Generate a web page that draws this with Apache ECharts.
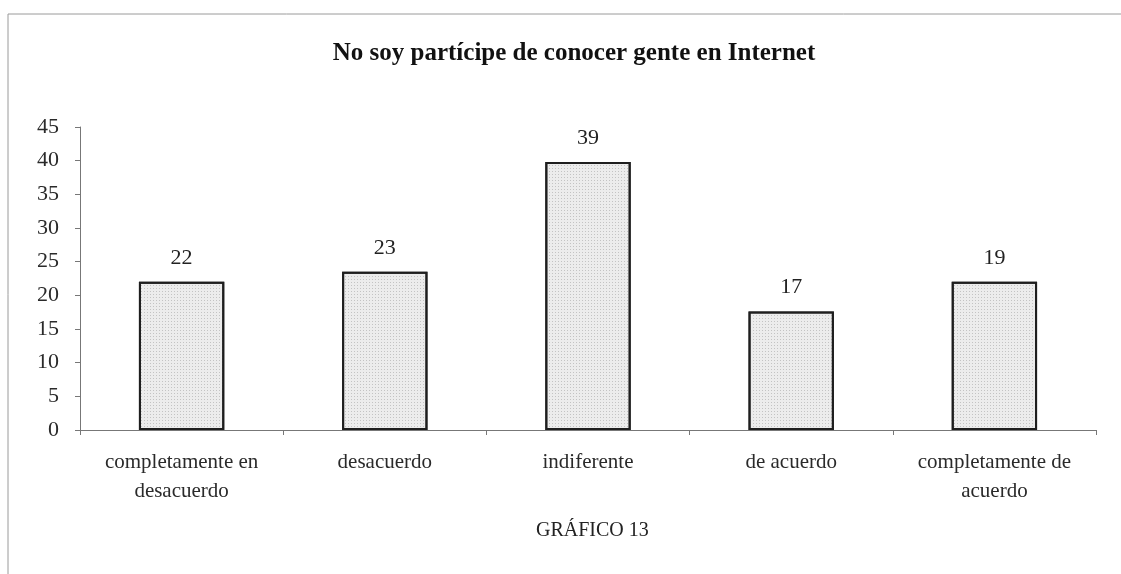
<!DOCTYPE html>
<html>
<head>
<meta charset="utf-8">
<script src="https://cdn.jsdelivr.net/npm/echarts@6/dist/echarts.min.js"></script>
<style>
  html, body { margin: 0; padding: 0; background: #fff; }
  #chart { width: 1121px; height: 574px; }
</style>
</head>
<body>
<div id="chart"></div>
<script>
// categorias y valores
const categories = [
  "completamente en\ndesacuerdo",
  "desacuerdo",
  "indiferente",
  "de acuerdo",
  "completamente de\nacuerdo"
];
// altura de las barras tal como se ven
const barValues = [22, 23.5, 39.8, 17.6, 22];
// numeros escritos encima de cada barra
const barLabels = ["22", "23", "39", "17", "19"];
const yTicks = { min: 0, max: 45, interval: 5 };

const serif = "'Liberation Serif', 'Times New Roman', serif";

const chart = echarts.init(document.getElementById("chart"));

const options = {
  backgroundColor: "#fff",
  animation: false,
  title: {
    text: "No soy partícipe de conocer gente en Internet",
    left: 569,
    textAlign: "center",
    top: 36,
    textStyle: {
      fontFamily: serif,
      fontSize: 25,
      fontWeight: "bold",
      color: "#111",
    },
  },
  graphic: [
    {
      type: "rect",
      shape: { x: 8, y: 14, width: 1200, height: 600 },
      style: { fill: "none", stroke: "#9a9a9a", lineWidth: 1 },
    },
    {
      type: "text",
      left: 536,
      top: 521,
      style: {
        text: "GRÁFICO 13",
        font: "20px " + serif,
        fill: "#222",
      },
    },
  ],
  grid: {
    left: 80,
    right: 25,
    top: 127,
    bottom: 144,
  },
  xAxis: {
    type: "category",
    data: categories,
    axisLine: { lineStyle: { color: "#777", width: 1 } },
    axisTick: { show: true, length: 5, lineStyle: { color: "#777" } },
    axisLabel: {
      fontFamily: serif,
      fontSize: 21,
      lineHeight: 29,
      color: "#2a2a2a",
      margin: 18,
      interval: 0,
    },
  },
  yAxis: {
    type: "value",
    min: yTicks.min,
    max: yTicks.max,
    interval: yTicks.interval,
    splitLine: { show: false },
    axisLine: { show: true, lineStyle: { color: "#777", width: 1 } },
    axisTick: { show: true, length: 5, lineStyle: { color: "#777" } },
    axisLabel: {
      fontFamily: serif,
      fontSize: 22,
      color: "#2a2a2a",
      margin: 21,
    },
  },
  series: [
    {
      type: "bar",
      data: barValues,
      barWidth: "42%",
      itemStyle: {
        color: "#ececec",
        borderColor: "#1e1e1e",
        borderWidth: 2,
        decal: {
          symbol: "rect",
          symbolSize: 1,
          color: "rgba(120,120,120,0.35)",
          dashArrayX: [1, 2],
          dashArrayY: [1, 2],
        },
      },
      label: {
        show: true,
        position: "top",
        distance: 13,
        fontFamily: serif,
        fontSize: 22,
        color: "#222",
        formatter: (p) => barLabels[p.dataIndex],
      },
    },
  ],
};

chart.setOption(options);
</script>
</body>
</html>
